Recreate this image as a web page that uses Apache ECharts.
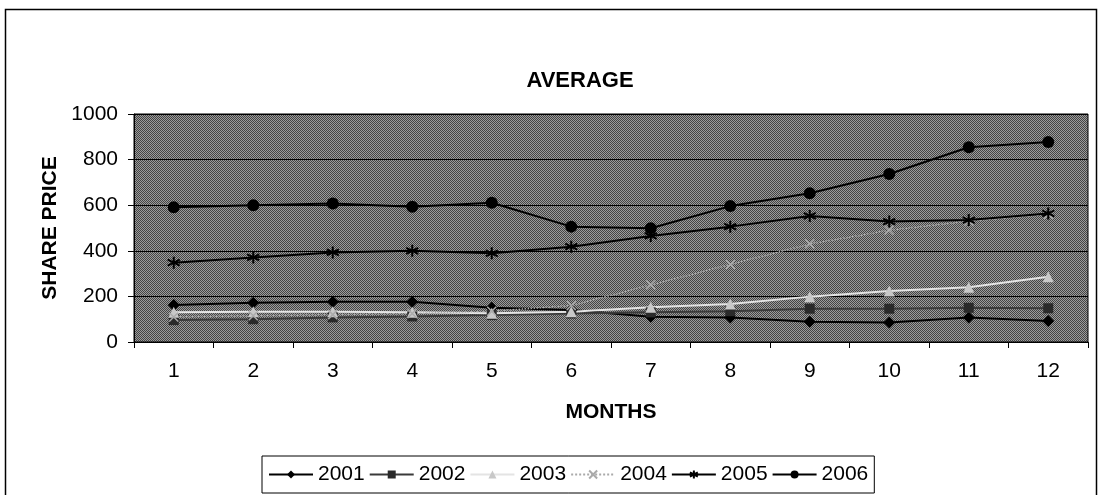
<!DOCTYPE html>
<html>
<head>
<meta charset="utf-8">
<script src="https://cdn.jsdelivr.net/npm/echarts@6/dist/echarts.min.js"></script>
<style>
  html, body { margin: 0; padding: 0; background: #fff; }
  #chart { width: 1100px; height: 495px; }
</style>
</head>
<body>
<div id="chart"></div>
<script>
// Monthly average share price, one line per year
const months = ['1', '2', '3', '4', '5', '6', '7', '8', '9', '10', '11', '12'];
const yTicks = [0, 200, 400, 600, 800, 1000];

const s2001 = [162, 172, 177, 177, 150, 140, 111, 107, 89, 85, 107, 92];
const s2002 = [96, 100, 108, 112, 118, 125, 130, 135, 146, 146, 150, 148];
const s2003 = [130, 133, 133, 130, 126, 133, 152, 167, 199, 224, 240, 286];
const s2004 = [110, 115, 120, 125, 135, 160, 250, 340, 430, 490, 530, 560];
const s2005 = [348, 371, 393, 400, 389, 418, 465, 506, 553, 528, 535, 564];
const s2006 = [591, 600, 607, 593, 611, 506, 499, 596, 652, 737, 854, 877];

const FONT = 'Liberation Sans, Arial, sans-serif';

// dithered grey texture for the plot area
function ditherPattern() {
  const c = document.createElement('canvas');
  c.width = 4; c.height = 4;
  const g = c.getContext('2d');
  for (let y = 0; y < 4; y++) {
    for (let x = 0; x < 4; x++) {
      g.fillStyle = ((x + y) % 2 === 0) ? '#444444' : '#9c9c9c';
      g.fillRect(x, y, 1, 1);
    }
  }
  return c;
}

const asterisk = 'path://M5,0 L5,10 M0,2.5 L10,7.5 M0,7.5 L10,2.5';
const cross = 'path://M0,0 L10,10 M10,0 L0,10';

function lineSeries(name, data, opt) {
  return Object.assign({
    name: name,
    type: 'line',
    data: data,
    symbolSize: 11,
    lineStyle: { width: 2, color: '#000' },
    itemStyle: { color: '#000' },
    emphasis: { disabled: true },
    animation: false
  }, opt);
}

const chart = echarts.init(document.getElementById('chart'));
chart.setOption({
  animation: false,
  backgroundColor: '#fff',
  title: {
    text: 'AVERAGE',
    left: 575, top: 65,
    textAlign: 'center',
    textStyle: { fontFamily: FONT, fontSize: 22, fontWeight: 'bold', color: '#000' }
  },
  graphic: [{
    type: 'rect',
    shape: { x: 5.5, y: 9.5, width: 1091, height: 500 },
    style: { fill: 'none', stroke: '#000', lineWidth: 1.5 },
    silent: true
  }],
  grid: {
    left: 134, right: 12, top: 114, bottom: 153,
    show: true,
    backgroundColor: { image: ditherPattern(), repeat: 'repeat' },
    borderColor: '#000', borderWidth: 1
  },
  legend: {
    bottom: 2,
    left: 262,
    padding: [8, 6, 8, 6],
    itemGap: 4,
    itemWidth: 44,
    itemHeight: 10,
    borderColor: '#000', borderWidth: 1,
    backgroundColor: '#fff',
    borderRadius: 0,
    textStyle: { fontFamily: FONT, fontSize: 21, color: '#000' },
    data: ['2001', '2002', '2003', '2004', '2005', '2006']
  },
  xAxis: {
    type: 'category',
    data: months,
    boundaryGap: true,
    name: 'MONTHS',
    nameLocation: 'middle',
    nameGap: 60,
    nameTextStyle: { fontFamily: FONT, fontSize: 21, fontWeight: 'bold', color: '#000' },
    axisLine: { lineStyle: { color: '#000', width: 1 } },
    axisTick: { show: true, alignWithLabel: false, length: 6, lineStyle: { color: '#000' } },
    axisLabel: { fontFamily: FONT, fontSize: 21, color: '#000', margin: 19 },
    splitLine: { show: false }
  },
  yAxis: {
    type: 'value',
    min: 0, max: 1000, interval: 200,
    name: 'SHARE PRICE',
    nameLocation: 'middle',
    nameGap: 73,
    nameRotate: 90,
    nameTextStyle: { fontFamily: FONT, fontSize: 21, fontWeight: 'bold', color: '#000' },
    axisLine: { show: true, lineStyle: { color: '#000', width: 1 } },
    axisTick: { show: true, length: 6, lineStyle: { color: '#000' } },
    axisLabel: {
      fontFamily: FONT, fontSize: 21, color: '#000', margin: 16,
      formatter: v => (yTicks.indexOf(v) >= 0 ? String(v) : '')
    },
    splitLine: { show: true, lineStyle: { color: '#000', width: 1 } }
  },
  series: [
    lineSeries('2001', s2001, { symbol: 'diamond', symbolSize: 12 }),
    lineSeries('2002', s2002, {
      symbol: 'rect', symbolSize: 10,
      lineStyle: { width: 2, color: '#3a3a3a' },
      itemStyle: { color: '#2a2a2a' }
    }),
    lineSeries('2003', s2003, {
      symbol: 'triangle', symbolSize: 11,
      lineStyle: { width: 2, color: '#e4e4e4' },
      itemStyle: { color: '#c8c8c8' }
    }),
    lineSeries('2004', s2004, {
      symbol: cross, symbolSize: 9,
      lineStyle: { width: 1.5, color: '#aaaaaa', type: 'dotted' },
      itemStyle: { color: 'none', borderColor: '#aaaaaa', borderWidth: 1.5 }
    }),
    lineSeries('2005', s2005, {
      symbol: asterisk, symbolSize: 12,
      itemStyle: { color: 'none', borderColor: '#000', borderWidth: 2 }
    }),
    lineSeries('2006', s2006, { symbol: 'circle', symbolSize: 12 })
  ]
});
</script>
</body>
</html>
